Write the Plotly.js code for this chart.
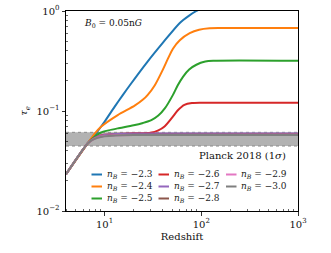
<!DOCTYPE html>
<html><head><meta charset="utf-8">
<script src="https://cdn.plot.ly/plotly-3.0.1.min.js"></script>
<style>html,body{margin:0;padding:0;background:#fff;overflow:hidden;}</style>
</head><body>
<div id="chart" style="width:331px;height:253px;"></div>
<script>
// ---- data ----
const seriesLabels = ['\u22122.3', '\u22122.4', '\u22122.5', '\u22122.6', '\u22122.7', '\u22122.8', '\u22122.9', '\u22123.0'];
const seriesColors = ['#1f77b4', '#ff7f0e', '#2ca02c', '#d62728', '#9467bd', '#8c564b', '#e377c2', '#7f7f7f'];

const z_23 = [4, 6.7, 8, 10, 12.7, 15.5, 18.2, 27, 40, 60, 75, 89, 120, 200, 1000];
const tau_23 = [0.0233, 0.0474, 0.058, 0.078, 0.11, 0.145, 0.18, 0.30, 0.48, 0.76, 0.9, 1.0, 1.15, 1.25, 1.25];

const z_24 = [4, 6.7, 8, 9.2, 13.7, 20.5, 25, 28, 33, 40, 45, 51, 60, 76, 95, 122, 160, 1000];
const tau_24 = [0.0233, 0.0474, 0.060, 0.0695, 0.091, 0.113, 0.13, 0.145, 0.18, 0.258, 0.33, 0.42, 0.51, 0.60, 0.65, 0.672, 0.675, 0.675];

const z_25 = [4, 6.7, 8, 9.2, 11, 13.7, 20, 25, 30.5, 36, 42, 51, 57, 65, 75, 89, 110, 133, 1000];
const tau_25 = [0.0233, 0.0474, 0.056, 0.061, 0.064, 0.067, 0.072, 0.076, 0.081, 0.09, 0.106, 0.145, 0.18, 0.221, 0.26, 0.29, 0.312, 0.318, 0.318];

const z_26 = [4, 6.7, 7.5, 8.5, 10, 13, 20, 30, 36, 42, 50, 57, 67, 80, 100, 1000];
const tau_26 = [0.0233, 0.0474, 0.052, 0.0555, 0.0578, 0.059, 0.0598, 0.0605, 0.064, 0.0705, 0.086, 0.101, 0.115, 0.12, 0.121, 0.121];

const z_base = [4, 6.7, 7.5, 8.5, 10, 13, 20, 1000];
const tau_27 = [0.0233, 0.0474, 0.052, 0.0553, 0.0575, 0.0588, 0.0594, 0.0596];
const tau_28 = [0.0233, 0.0474, 0.0516, 0.0545, 0.0564, 0.0576, 0.058, 0.0582];
const tau_29 = [0.0233, 0.0474, 0.0515, 0.0543, 0.0561, 0.0572, 0.0577, 0.0578];
const tau_30 = [0.0233, 0.0474, 0.0514, 0.0541, 0.0559, 0.0570, 0.0575, 0.0576];

// Planck 2018 (1 sigma) band
const bandZ = [4, 1000];
const planckLow = [0.0446, 0.0446];
const planckHigh = [0.0612, 0.0612];

// axis ticks
const xTickVals = [10, 100, 1000];
const xTickText = ['10<sup>1</sup>', '10<sup>2</sup>', '10<sup>3</sup>'];
const yTickVals = [0.01, 0.1, 1];
const yTickText = ['10<sup>\u22122</sup>', '10<sup>\u22121</sup>', '10<sup>0</sup>'];

const seriesZ = [z_23, z_24, z_25, z_26, z_base, z_base, z_base, z_base];
const seriesTau = [tau_23, tau_24, tau_25, tau_26, tau_27, tau_28, tau_29, tau_30];

// minor tick positions (log decades)
function minorTicks(decades) {
  const out = [];
  decades.forEach(d => { for (let m = 2; m <= 9; m++) out.push(m * d); });
  return out;
}

const FONT = 'DejaVu Serif';
const traces = [];
traces.push({x: bandZ, y: planckLow, mode: 'lines', line: {color: '#7a7a7a', width: 0.8, dash: 'dot'}, hoverinfo: 'skip', showlegend: false});
traces.push({x: bandZ, y: planckHigh, mode: 'lines', fill: 'tonexty', fillcolor: '#b2b2b2', line: {color: '#7a7a7a', width: 0.8, dash: 'dot'}, hoverinfo: 'skip', showlegend: false});
for (let i = 0; i < seriesLabels.length; i++) {
  traces.push({
    x: seriesZ[i], y: seriesTau[i], mode: 'lines', name: 'n_B = ' + seriesLabels[i],
    line: {color: seriesColors[i], width: 2, shape: 'spline', smoothing: 0.7}, showlegend: false
  });
}

// plot-area geometry (pixels) used to place the hand-drawn legend
const M = {l: 66, r: 33, t: 11, b: 42};
const W = 331, H = 253;
const pw = W - M.l - M.r, ph = H - M.t - M.b;
const px = x => (x - M.l) / pw;
const py = y => (H - M.b - y) / ph;

const shapes = [];
const annotations = [];
const colX = [91.5, 158.5, 226];
const rowY = [174.5, 186.5, 198.5];
for (let i = 0; i < seriesLabels.length; i++) {
  const c = Math.floor(i / 3), r = i % 3;
  shapes.push({type: 'line', xref: 'paper', yref: 'paper', x0: px(colX[c]), x1: px(colX[c] + 10.5),
    y0: py(rowY[r]), y1: py(rowY[r]), line: {color: seriesColors[i], width: 2}});
  annotations.push({xref: 'paper', yref: 'paper', x: px(colX[c] + 13), y: py(rowY[r]), xanchor: 'left', yanchor: 'middle',
    text: '<i>n</i><sub><i>B</i></sub> = ' + seriesLabels[i], showarrow: false, font: {family: FONT, size: 9, color: '#222'}});
}
annotations.push({xref: 'paper', yref: 'paper', x: px(288), y: py(155), xanchor: 'right', yanchor: 'middle',
  text: 'Planck 2018 (1<i>\u03c3</i>)', showarrow: false, font: {family: FONT, size: 10, color: '#111'}});
annotations.push({xref: 'paper', yref: 'paper', x: px(82), y: py(24), xanchor: 'left', yanchor: 'middle',
  text: '<i>B</i><sub>0</sub> = 0.05n<i>G</i>', showarrow: false, font: {family: FONT, size: 9, color: '#111'}});

const axisCommon = {
  type: 'log', showgrid: false, zeroline: false, showline: true, linecolor: '#000', linewidth: 1, mirror: true,
  ticks: 'outside', ticklen: 3.5, tickwidth: 0.8, tickcolor: '#000', tickmode: 'array',
  tickfont: {family: FONT, size: 10, color: '#111'}
};

const layout = {
  width: W, height: H, margin: M, paper_bgcolor: '#fff', plot_bgcolor: '#fff', showlegend: false,
  font: {family: FONT},
  xaxis: Object.assign({}, axisCommon, {
    range: [Math.log10(4), 3], tickvals: xTickVals, ticktext: xTickText,
    minor: {tickmode: 'array', tickvals: minorTicks([1, 10, 100]), ticks: 'inside', ticklen: 2, tickwidth: 0.6, tickcolor: '#000'},
    title: {text: 'Redshift', font: {family: FONT, size: 10, color: '#111'}, standoff: 4}
  }),
  yaxis: Object.assign({}, axisCommon, {
    range: [-2, 0], tickvals: yTickVals, ticktext: yTickText,
    minor: {tickmode: 'array', tickvals: minorTicks([0.01, 0.1]), ticks: 'inside', ticklen: 2, tickwidth: 0.6, tickcolor: '#000'},
    title: {text: '<i>\u03c4</i><sub><i>e</i></sub>', font: {family: FONT, size: 10, color: '#111'}, standoff: 6}
  }),
  shapes: shapes, annotations: annotations
};

Plotly.newPlot('chart', traces, layout, {staticPlot: true, displayModeBar: false});
</script>
</body></html>
